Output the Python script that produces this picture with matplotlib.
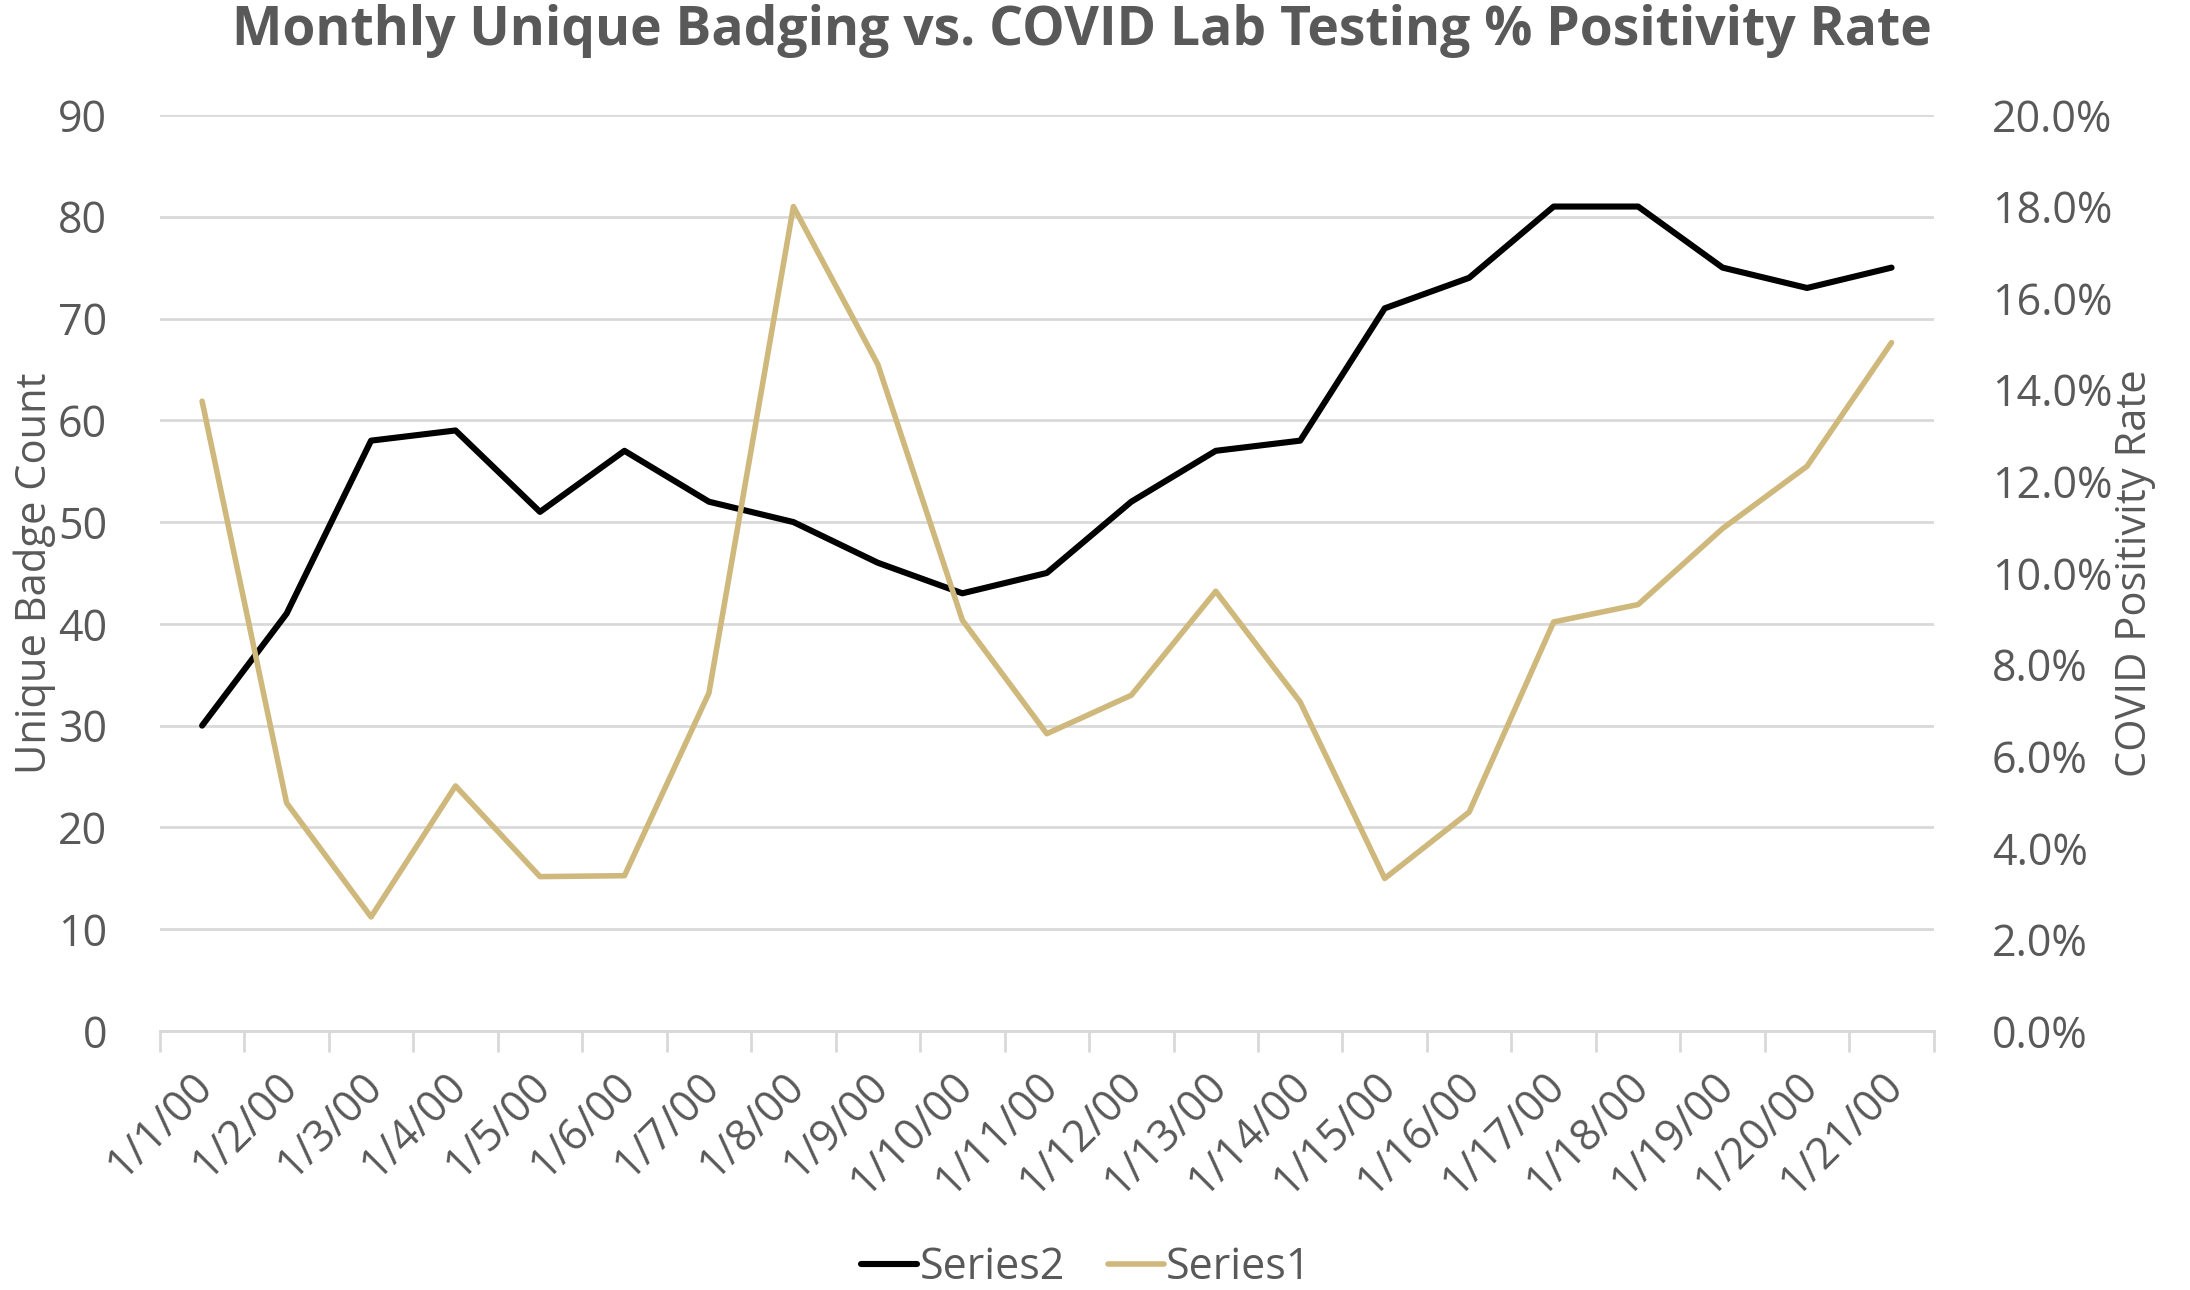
import matplotlib
matplotlib.use("Agg")
import matplotlib.pyplot as plt
import matplotlib.transforms as mtransforms
from matplotlib.ticker import FuncFormatter, FixedLocator

# data
dates = [f"1/{d}/00" for d in range(1, 22)]
badge_count = [30, 41, 58, 59, 51, 57, 52, 50, 46, 43, 45,
               52, 57, 58, 71, 74, 81, 81, 75, 73, 75]
positivity = [0.1375, 0.0498, 0.0249, 0.0535, 0.0337, 0.0339, 0.0738,
              0.1800, 0.1455, 0.0897, 0.0649, 0.0733, 0.0960, 0.0718,
              0.0333, 0.0478, 0.0893, 0.0931, 0.1097, 0.1233, 0.1503]

TEXT = "#595959"
GRID = "#d9d9d9"
GOLD = "#CFB87C"
FONT = ["Open Sans", "DejaVu Sans"]

fig = plt.figure(figsize=(21.9, 12.9), dpi=100)
ax = fig.add_axes([0.073, 0.2008, 0.81, 0.7101])
ax2 = ax.twinx()

x = list(range(len(dates)))
ax.plot(x, badge_count, color="black", lw=4.4, solid_joinstyle="round",
        solid_capstyle="round", label="Series2")
ax2.plot(x, positivity, color=GOLD, lw=4.0, solid_joinstyle="round",
         solid_capstyle="round", label="Series1")

ax.set_xlim(-0.5, len(dates) - 0.5)
ax.set_ylim(0, 90)
ax2.set_ylim(0, 0.2)
ax.set_yticks(range(0, 91, 10))
ax2.set_yticks([i / 100 for i in range(0, 21, 2)])
ax2.yaxis.set_major_formatter(FuncFormatter(lambda v, p: f"{v * 100:.1f}%"))

ax.grid(axis="y", color=GRID, lw=2)
ax.set_axisbelow(True)
for a in (ax, ax2):
    for s in ("top", "left", "right"):
        a.spines[s].set_visible(False)
    a.spines["bottom"].set_color(GRID)
    a.spines["bottom"].set_linewidth(2)

# category labels at centres, tick marks between categories
ax.set_xticks(x)
ax.set_xticklabels(dates, rotation=45, ha="right", va="top",
                   fontsize=31, color=TEXT, family=FONT)
ax.xaxis.set_minor_locator(FixedLocator([i - 0.5 for i in range(len(dates) + 1)]))
ax.tick_params(axis="x", which="major", length=0, pad=24)
ax.tick_params(axis="x", which="minor", length=15, width=2, color=GRID)
shift = mtransforms.ScaledTranslation(20 / 100, 0, fig.dpi_scale_trans)
for lbl in ax.get_xticklabels():
    lbl.set_transform(lbl.get_transform() + shift)

ax.tick_params(axis="y", length=0, pad=38, labelsize=31, labelcolor=TEXT)
ax2.tick_params(axis="y", length=0, pad=42, labelsize=31, labelcolor=TEXT)
for lbl in ax.get_yticklabels() + ax2.get_yticklabels():
    lbl.set_family(FONT)

ax.set_ylabel("Unique Badge Count", fontsize=30, color=TEXT, family=FONT)
ax2.set_ylabel("COVID Positivity Rate", fontsize=30, color=TEXT, family=FONT,
               rotation=90)
ax.yaxis.set_label_coords(-0.0586, 0.5)
ax2.yaxis.set_label_coords(1.1015, 0.5)

fig.text(0.494, 0.976, "Monthly Unique Badging vs. COVID Lab Testing % Positivity Rate",
         ha="center", va="center", fontsize=38.5, fontweight="bold", color=TEXT,
         family=FONT)

h1, l1 = ax.get_legend_handles_labels()
h2, l2 = ax2.get_legend_handles_labels()
fig.legend(h1 + h2, l1 + l2, loc="center", bbox_to_anchor=(0.496, 0.017),
           ncol=2, frameon=False, prop={"family": FONT, "size": 31},
           labelcolor=TEXT, handlelength=1.3, handletextpad=0.05, columnspacing=1.0)

fig.savefig("out.png", dpi=100)
